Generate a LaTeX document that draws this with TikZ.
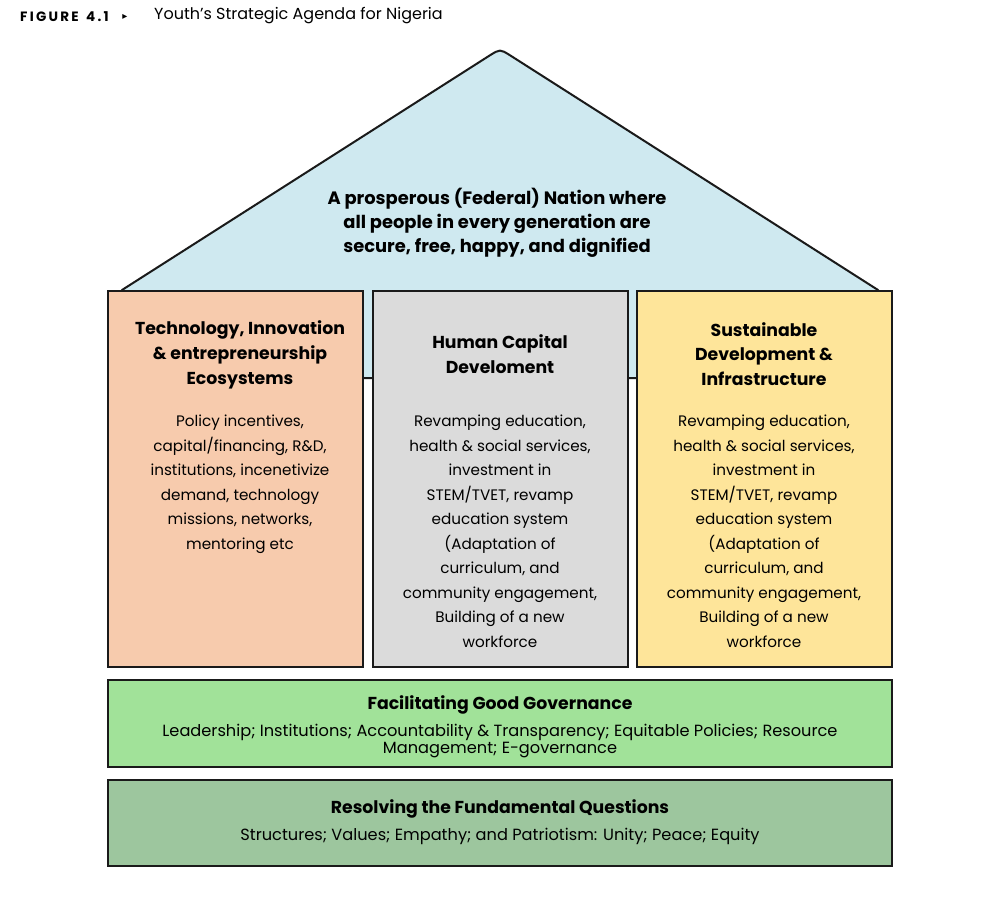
\documentclass[tikz,border=0pt]{standalone}
\usepackage{fontspec}
\setmainfont{Poppins}
\newfontfamily\dejavu{DejaVu Sans}
\definecolor{roofc}{HTML}{CFE9F0}
\definecolor{peach}{HTML}{F7CBAD}
\definecolor{greyc}{HTML}{DBDBDB}
\definecolor{yell}{HTML}{FEE59A}
\definecolor{gov}{HTML}{A1E299}
\definecolor{fund}{HTML}{9DC69E}
\definecolor{ink}{HTML}{1A1A1A}
\tikzset{
  boxline/.style={draw=ink, line width=2pt},
  ttl/.style={align=center, text=black, font=\fontsize{17.3}{24.8}\selectfont\bfseries, inner sep=0pt},
  bdy/.style={align=center, text=black, font=\fontsize{15.2}{24.5}\selectfont, inner sep=0pt},
  wbdy/.style={align=center, text=black, font=\fontsize{16.2}{17}\selectfont, inner sep=0pt},
}
\begin{document}
\begin{tikzpicture}[x=1pt,y=-1pt]
\useasboundingbox (0,0) rectangle (1000,897);
\fill[white] (0,0) rectangle (1000,897);
% header
\node[anchor=west, inner sep=0pt, font=\fontsize{13.5}{15}\selectfont\bfseries] (fig) at (20,16.5) {F\,I\,G\,U\,R\,E\;\;4\,.\,1};
\node[inner sep=0pt, font=\dejavu\fontsize{10}{11}\selectfont] (tri) at (125,16.5) {▸};
\node[anchor=west, inner sep=0pt, font=\fontsize{16}{18}\selectfont] (title) at (154,16) {Youth’s Strategic Agenda for Nigeria};
% roof
\coordinate (rl) at (122,290);
\coordinate (rr) at (878,290);
\coordinate (pl) at (489.8,55.4);
\coordinate (pr) at (510.2,55.4);
\coordinate (apex) at (500,49);
\draw[fill=roofc, line width=2pt, draw=ink, line join=round] (rl) -- (pl) .. controls (apex) .. (pr) -- (rr) -- (878,378) -- (122,378) -- cycle;
\node[ttl, font=\fontsize{17.9}{24.2}\selectfont\bfseries] (vision) at (497,223) {A prosperous (Federal) Nation where\\all people in every generation are\\secure, free, happy, and dignified};
% pillars
\draw[boxline, fill=peach] (108,291) rectangle (363,667);
\draw[boxline, fill=greyc] (373,291) rectangle (628,667);
\draw[boxline, fill=yell] (637,291) rectangle (892,667);
\node[ttl] (t1) at (240,355) {Technology, Innovation\\\& entrepreneurship\\Ecosystems};
\node[ttl] (t2) at (500,354.5) {Human Capital\\Develoment};
\node[ttl] (t3) at (764,354) {Sustainable\\Development \&\\Infrastructure};
\node[bdy, anchor=north] (b1) at (240,415) {Policy incentives,\\capital/financing, R\&D,\\institutions, incenetivize\\demand, technology\\missions, networks,\\mentoring etc};
\node[bdy, anchor=north] (b2) at (500,415) {Revamping education,\\health \& social services,\\investment in\\STEM/TVET, revamp\\education system\\(Adaptation of\\curriculum, and\\community engagement,\\Building of a new\\workforce};
\node[bdy, anchor=north] (b3) at (764,415) {Revamping education,\\health \& social services,\\investment in\\STEM/TVET, revamp\\education system\\(Adaptation of\\curriculum, and\\community engagement,\\Building of a new\\workforce};
% governance
\draw[boxline, fill=gov] (108,680) rectangle (892,767);
\node[ttl] (g1) at (500,705) {Facilitating Good Governance};
\node[wbdy] (g2) at (500,741) {Leadership; Institutions; Accountability \& Transparency; Equitable Policies; Resource\\Management; E-governance};
% fundamental
\draw[boxline, fill=fund] (108,780) rectangle (892,866);
\node[ttl] (f1) at (500,809) {Resolving the Fundamental Questions};
\node[wbdy] (f2) at (500,836) {Structures; Values; Empathy; and Patriotism: Unity; Peace; Equity};
\end{tikzpicture}
\end{document}
